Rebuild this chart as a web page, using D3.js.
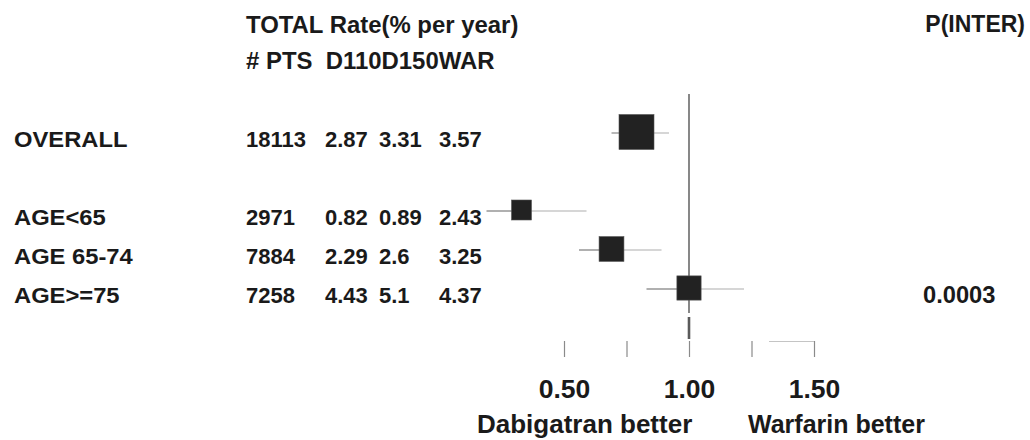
<!DOCTYPE html>
<html>
<head>
<meta charset="utf-8">
<script src="https://cdn.jsdelivr.net/npm/d3@7"></script>
<style>
  html, body { margin: 0; padding: 0; background: #fff; }
  svg { display: block; }
  text { font-family: "Liberation Sans", Arial, Helvetica, sans-serif; font-weight: bold; fill: #1a1a1a; white-space: pre; }
</style>
</head>
<body>
<svg id="chart" width="1030" height="440"></svg>
<script>
// Subgroup rows
const labels = ["OVERALL", "AGE<65", "AGE 65-74", "AGE>=75"];
const patients = [18113, 2971, 7884, 7258];
const rateD110 = ["2.87", "0.82", "2.29", "4.43"];
const rateD150 = ["3.31", "0.89", "2.6", "5.1"];
const rateWAR = ["3.57", "2.43", "3.25", "4.37"];
// Hazard ratio (dabigatran vs warfarin) with 95% CI
const hazardRatio = [0.79, 0.33, 0.69, 1.00];
const ciLower = [0.69, 0.19, 0.56, 0.83];
const ciUpper = [0.92, 0.59, 0.89, 1.22];
const pInteraction = ["", "", "", "0.0003"];
// Axis
const tickValues = [0.5, 0.75, 1.0, 1.25, 1.5];
const tickLabels = ["0.50", "", "1.00", "", "1.50"];

const rows = labels.map((label, i) => ({
  label, n: patients[i], d110: rateD110[i], d150: rateD150[i], war: rateWAR[i],
  hr: hazardRatio[i], lo: ciLower[i], hi: ciUpper[i], p: pInteraction[i]
}));

const svg = d3.select("#chart");

const x = d3.scaleLinear().domain([0.5, 1.5]).range([564, 814]);
const y = d3.scalePoint()
  .domain([labels[0], "__gap__", ...labels.slice(1)])
  .range([132, 288]);
const side = d3.scaleLinear().domain(d3.extent(patients)).range([20, 35]);

const textDy = 15;

// Text with slightly widened glyphs, anchored at (px, py)
function wideText(parent, px, py, size, stretch, str, anchor) {
  return parent.append("text")
    .attr("transform", `translate(${px},${py}) scale(${stretch},1)`)
    .attr("text-anchor", anchor || "start")
    .style("font-size", size + "px")
    .text(str);
}

// Column headers
wideText(svg, 246, 33, 23, 1.04, "TOTAL Rate(% per year)");
wideText(svg, 246, 69, 23, 1.04, "# PTS  D110D150WAR");
wideText(svg, 1025, 32, 23, 1.0, "P(INTER)", "end");

// Table columns
const cols = [
  { key: "label", x: 14, stretch: 1.08, size: 22 },
  { key: "n", x: 246, stretch: 1.0, size: 22 },
  { key: "d110", x: 325, stretch: 1.0, size: 22 },
  { key: "d150", x: 379, stretch: 1.0, size: 22 },
  { key: "war", x: 439, stretch: 1.0, size: 22 },
  { key: "p", x: 923, stretch: 1.03, size: 23 }
];
const rowG = svg.append("g").selectAll("g").data(rows).join("g");
cols.forEach(c => {
  rowG.append("text")
    .attr("transform", d => `translate(${c.x},${y(d.label) + textDy}) scale(${c.stretch},1)`)
    .style("font-size", c.size + "px")
    .text(d => d[c.key]);
});

// Line of no effect
svg.append("line")
  .attr("x1", x(1)).attr("x2", x(1))
  .attr("y1", 94).attr("y2", 313)
  .attr("stroke", "#6a6a6a").attr("stroke-width", 1.6);
svg.append("line")
  .attr("x1", x(1)).attr("x2", x(1))
  .attr("y1", 317).attr("y2", 339)
  .attr("stroke", "#5a5a5a").attr("stroke-width", 2.6);

// Confidence intervals
const ci = svg.append("g");
ci.selectAll("line.lo").data(rows).join("line")
  .attr("x1", d => x(d.lo)).attr("x2", d => x(d.hr))
  .attr("y1", d => y(d.label) + 1).attr("y2", d => y(d.label) + 1)
  .attr("stroke", "#b0b0b0").attr("stroke-width", 1.8);
ci.selectAll("line.hi").data(rows).join("line")
  .attr("x1", d => x(d.hr)).attr("x2", d => x(d.hi))
  .attr("y1", d => y(d.label) + 1).attr("y2", d => y(d.label) + 1)
  .attr("stroke", "#c8c8c8").attr("stroke-width", 1.5);

// Point estimates, sized by number of patients
svg.append("g").selectAll("rect").data(rows).join("rect")
  .attr("x", d => x(d.hr) - side(d.n) / 2)
  .attr("y", d => y(d.label) - side(d.n) / 2)
  .attr("width", d => side(d.n))
  .attr("height", d => side(d.n))
  .attr("fill", "#222")
  .attr("stroke", "#555").attr("stroke-width", 0.6);

// Hazard ratio axis
const axis = d3.axisBottom(x)
  .tickValues(tickValues)
  .tickFormat((d, i) => tickLabels[i])
  .tickSize(16)
  .tickPadding(22);
const ax = svg.append("g").attr("transform", "translate(0,341)").call(axis);
ax.select(".domain").remove();
ax.selectAll(".tick line").attr("stroke", "#8a8a8a").attr("stroke-width", 1.2);
ax.selectAll(".tick text")
  .attr("fill", "#1a1a1a")
  .style("font-size", "26.5px")
  .style("font-family", "\"Liberation Sans\", Arial, sans-serif")
  .style("font-weight", "bold");
svg.append("line")
  .attr("x1", x(1.32)).attr("x2", x(1.5))
  .attr("y1", 341.5).attr("y2", 341.5)
  .attr("stroke", "#c4c4c4").attr("stroke-width", 1.2);

// Direction labels
svg.append("text").attr("x", 477).attr("y", 433).style("font-size", "26px")
  .text("Dabigatran better");
svg.append("text").attr("x", 748).attr("y", 433).style("font-size", "25px")
  .text("Warfarin better");
</script>
</body>
</html>
